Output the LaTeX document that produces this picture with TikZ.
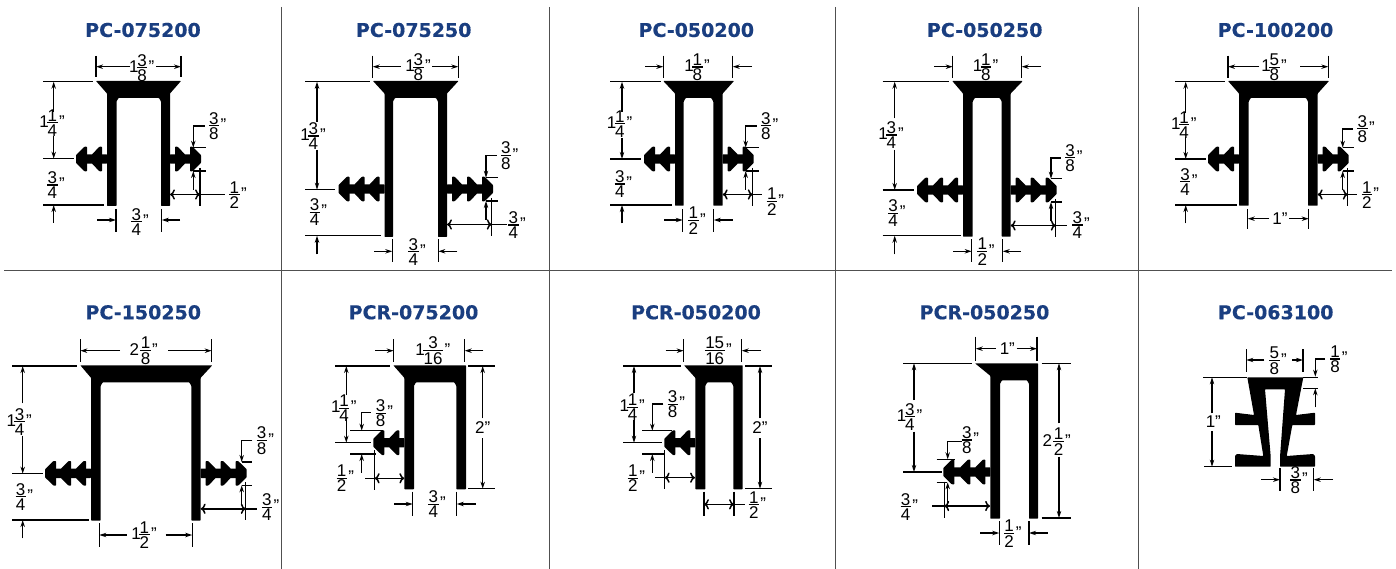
\documentclass[tikz,border=0pt]{standalone}
\usepackage{fontspec}
\setmainfont{Liberation Sans}
\newfontfamily\titlefont[BoldFeatures={FakeBold=0.5}]{DejaVu Sans}
\usetikzlibrary{arrows.meta}

\definecolor{titleblue}{RGB}{26,62,128}
\definecolor{gridgray}{RGB}{80,80,80}

% fraction and inch sizes
\newcommand{\frc}[2]{$\vcenter{\offinterlineskip\halign{\hfil\kern0.4pt##\kern0.4pt\hfil\cr #1\cr\noalign{\kern1pt\hrule height 1.2pt\kern1.2pt}#2\cr}}$}
\newcommand{\dimfrac}[2]{\frc{#1}{#2}\kern1.5pt"}
\newcommand{\mixed}[3]{#1\kern-1.5pt\frc{#2}{#3}\kern1.5pt"}

% channel body: flange left, wall left, inner left, inner right, wall right, flange right, top, bottom
\newcommand{\channel}[8]{
    \fill[rubber] (#1,#7) -- (#6,#7) -- (#5,#7+12.5) -- (#5,#8) -- (#4,#8) -- (#4,#7+20.5) -- (#4-2,#7+17)
        -- (#3+2,#7+17) -- (#3,#7+20.5) -- (#3,#8) -- (#2,#8) -- (#2,#7+12.5) -- cycle;
}
% barbed fin: wall x, y, direction, inner barb positions, end barb position
\newcommand{\finbarbs}[5]{
    \begin{scope}[shift={(#1,#2)},xscale=#3]
        \fill[rubber] (0,-4.7) rectangle (#5+5,4.7);
        \foreach \d in {#4} {
            \fill[rubber] (\d,-12.3) -- (\d+2.5,-12.3) -- (\d+10,-4.7) -- (\d+10,4.7) -- (\d+2.5,12.3) -- (\d,12.3) -- cycle;
        }
        \fill[rubber] (#5,-12.3) -- (#5+2.5,-12.3) -- (#5+11,-4) -- (#5+11,4) -- (#5+2.5,12.3) -- (#5,12.3) -- cycle;
    \end{scope}
}
% fin height: name, fin end, fin y, leader x, label x, label y
\newcommand{\finleader}[6]{
    \draw[extline] (#4,#3-11.3) -- (#2+5,#3-11.3) (#4,#3+12) -- (#2+5,#3+12);
    \draw[dimline] (#5-13,#6) -- (#4,#6) -- (#4,#3-11.3);
    \draw[dimline] (#4,#3+31) -- (#4,#3+12);
    \node[dimlabel] (#1) at (#5,#6) {\dimfrac{3}{8}};
}
% fin reach: name, fin end, fin y, wall x, tail x, label x, label y, label
\newcommand{\finreach}[8]{
    \draw[extline] (#2-1,#3+9) -- (#2-1,#3+46.7) (#2-1,#3+35.5) -- (#5,#3+35.5);
    \draw[dimline,<->] (#4,#3+35.5) -- (#2-1,#3+35.5);
    \node[dimlabel] (#1) at (#6,#7) {#8};
}

\begin{document}
\begin{tikzpicture}[
        x=1pt, y=-1pt,
        rubber/.style={fill=black, rounded corners=0.6pt},
        extline/.style={draw=black, line width=1.5pt},
        dimline/.style={draw=black, line width=1.5pt, -{Stealth[length=7pt,width=4.4pt]}},
        dimlabel/.style={inner sep=0pt, font=\fontsize{17}{18}\selectfont},
        title/.style={inner sep=0pt, text=titleblue, font=\titlefont\bfseries\fontsize{19}{20}\selectfont},
        gridline/.style={draw=gridgray, line width=0.9pt}
    ]
        \useasboundingbox (0,0) rectangle (1396,569);

        % Table lines
        \draw[gridline] (4,270) -- (1392,270);
        \foreach \x in {281.5,549,835.5,1138} {
            \draw[gridline] (\x,7) -- (\x,569);
        }

        % Titles
        \node[title] (title_a) at (143,30) {PC-075200};
        \node[title] (title_b) at (413.7,30) {PC-075250};
        \node[title] (title_c) at (696.3,30) {PC-050200};
        \node[title] (title_d) at (984.7,30) {PC-050250};
        \node[title] (title_e) at (1275.5,30) {PC-100200};
        \node[title] (title_f) at (143.3,312.3) {PC-150250};
        \node[title] (title_g) at (413.5,312.3) {PCR-075200};
        \node[title] (title_h) at (696,312.3) {PCR-050200};
        \node[title] (title_i) at (984.5,312.3) {PCR-050250};
        \node[title] (title_j) at (1275.7,312.3) {PC-063100};

        % PC-075200
        \channel{96}{107}{116.5}{161}{170}{181}{81}{206}
        \finbarbs{107}{159}{-1}{5}{20}
        \finbarbs{170}{159}{1}{5}{20}
        \draw[extline] (96,56) -- (96,77) (181,56) -- (181,77) (43,81.7) -- (92.7,81.7) (43,158.7) -- (74,158.7) (43,205) -- (104,205);
        \draw[extline] (116,209) -- (116,231.7) (161.7,209) -- (161.7,231.7);
        \draw[dimline] (130,66.7) -- (96,66.7);
        \draw[dimline] (156,66.7) -- (181,66.7);
        \draw[dimline] (53.7,112) -- (53.7,81.7);
        \draw[dimline] (53.7,136) -- (53.7,158.7);
        \draw[dimline] (53.7,223) -- (53.7,205);
        \draw[dimline] (97,220) -- (116,220);
        \draw[dimline] (180,220) -- (161.7,220);
        \node[dimlabel] (top_a) at (141.7,68) {\mixed{1}{3}{8}};
        \node[dimlabel] (upper_a) at (52,123) {\mixed{1}{1}{4}};
        \node[dimlabel] (lower_a) at (56,185) {\dimfrac{3}{4}};
        \node[dimlabel] (gap_a) at (140,221.7) {\dimfrac{3}{4}};
        \finleader{fin_a}{201}{159}{193.3}{217.5}{126}
        \finreach{reach_a}{201}{159}{170}{225}{238}{195}{\dimfrac{1}{2}}

        % PC-075250
        \channel{373}{384.5}{393}{438}{447}{458.5}{81}{237}
        \finbarbs{384.5}{189}{-1}{5,20}{35}
        \finbarbs{447}{189}{1}{5,20}{35}
        \draw[extline] (372.7,55.7) -- (372.7,78) (458.3,55.7) -- (458.3,78) (305,81.7) -- (370,81.7) (305,189.7) -- (335,189.7) (305,235.7) -- (380.7,235.7);
        \draw[extline] (392.3,239) -- (392.3,262.3) (438.3,239) -- (438.3,262.3);
        \draw[dimline] (400.7,66.7) -- (372.7,66.7);
        \draw[dimline] (432.3,66.7) -- (458.3,66.7);
        \draw[dimline] (317,121.7) -- (317,81.7);
        \draw[dimline] (317,150) -- (317,189.7);
        \draw[dimline] (317,254.3) -- (317,235.7);
        \draw[dimline] (374.3,251.3) -- (392.3,251.3);
        \draw[dimline] (457.3,251.3) -- (438.3,251.3);
        \node[dimlabel] (top_b) at (418,67.3) {\mixed{1}{3}{8}};
        \node[dimlabel] (upper_b) at (313,136) {\mixed{1}{3}{4}};
        \node[dimlabel] (lower_b) at (318.3,212.3) {\dimfrac{3}{4}};
        \node[dimlabel] (gap_b) at (417,251.7) {\dimfrac{3}{4}};
        \finleader{fin_b}{492.7}{189}{486}{509.5}{155.7}
        \finreach{reach_b}{492.7}{189}{447}{506.7}{517}{225}{\dimfrac{3}{4}}

        % PC-050200
        \channel{663.3}{675}{683.7}{713.3}{722.7}{734}{81}{205.7}
        \finbarbs{675}{159}{-1}{5}{20}
        \finbarbs{722.7}{159}{1}{5}{20}
        \draw[extline] (663.3,55.7) -- (663.3,78.3) (732.7,55.7) -- (732.7,78.3) (610,81.7) -- (661,81.7) (610,159) -- (640.7,159) (610,205) -- (671.7,205);
        \draw[extline] (682.7,209) -- (682.7,231.7) (713.7,209) -- (713.7,231.7);
        \draw[dimline] (645,66.7) -- (663.3,66.7);
        \draw[dimline] (752,66.7) -- (732.7,66.7);
        \draw[dimline] (622,111.7) -- (622,81.7);
        \draw[dimline] (622,138.3) -- (622,159);
        \draw[dimline] (622,223.3) -- (622,205);
        \draw[dimline] (664.3,220) -- (682.7,220);
        \draw[dimline] (732.7,220) -- (713.7,220);
        \node[dimlabel] (top_c) at (697,67.3) {\mixed{1}{1}{8}};
        \node[dimlabel] (upper_c) at (619.5,124) {\mixed{1}{1}{4}};
        \node[dimlabel] (lower_c) at (623.3,184) {\dimfrac{3}{4}};
        \node[dimlabel] (gap_c) at (697,220.7) {\dimfrac{1}{2}};
        \finleader{fin_c}{753.7}{159}{745.7}{769.5}{126}
        \finreach{reach_c}{753.7}{159}{722.7}{762}{775.3}{201.7}{\dimfrac{1}{2}}

        % PC-050250
        \channel{952.3}{963}{972.7}{1001.7}{1010.7}{1022.7}{81}{236.7}
        \finbarbs{963}{190}{-1}{5,20}{35}
        \finbarbs{1010.7}{190}{1}{5,20}{35}
        \draw[extline] (952.7,55.7) -- (952.7,78.3) (1021.7,55.7) -- (1021.7,78.3) (882.7,81.7) -- (949,81.7) (882.7,190) -- (914.3,190) (882.7,235.7) -- (960.7,235.7);
        \draw[extline] (971.7,239.3) -- (971.7,262.3) (1002.7,239.3) -- (1002.7,262.3);
        \draw[dimline] (934.3,66.7) -- (952.7,66.7);
        \draw[dimline] (1041,66.7) -- (1021.7,66.7);
        \draw[dimline] (894.7,118.3) -- (894.7,81.7);
        \draw[dimline] (894.7,150) -- (894.7,190);
        \draw[dimline] (894.7,254.3) -- (894.7,235.7);
        \draw[dimline] (953.3,251.3) -- (971.7,251.3);
        \draw[dimline] (1020.7,251.3) -- (1002.7,251.3);
        \node[dimlabel] (top_d) at (985.5,67.3) {\mixed{1}{1}{8}};
        \node[dimlabel] (upper_d) at (891,135) {\mixed{1}{3}{4}};
        \node[dimlabel] (lower_d) at (896.7,213.3) {\dimfrac{3}{4}};
        \node[dimlabel] (gap_d) at (985.8,251.7) {\dimfrac{1}{2}};
        \finleader{fin_d}{1056.7}{190}{1051}{1073.7}{158}
        \finreach{reach_d}{1056.7}{190}{1010.7}{1067.3}{1081}{225}{\dimfrac{3}{4}}

        % PC-100200
        \channel{1228}{1239}{1248.7}{1308}{1317.7}{1329}{81}{205.7}
        \finbarbs{1239}{159}{-1}{5}{20}
        \finbarbs{1317.7}{159}{1}{5}{20}
        \draw[extline] (1228,55.7) -- (1228,78.3) (1328.3,55.7) -- (1328.3,78.3) (1175,81.7) -- (1225,81.7) (1175,159) -- (1205.7,159) (1175,205) -- (1236.7,205);
        \draw[extline] (1247.7,209) -- (1247.7,229.3) (1308.7,209) -- (1308.7,229.3);
        \draw[dimline] (1259.3,66.7) -- (1228,66.7);
        \draw[dimline] (1300,66.7) -- (1328.3,66.7);
        \draw[dimline] (1185.7,113.3) -- (1185.7,81.7);
        \draw[dimline] (1185.7,136.7) -- (1185.7,159);
        \draw[dimline] (1185.7,223.3) -- (1185.7,205);
        \draw[dimline] (1269.3,218.7) -- (1247.7,218.7);
        \draw[dimline] (1289.3,218.7) -- (1308.7,218.7);
        \node[dimlabel] (top_e) at (1274,67.3) {\mixed{1}{5}{8}};
        \node[dimlabel] (upper_e) at (1183.8,125) {\mixed{1}{1}{4}};
        \node[dimlabel] (lower_e) at (1188.7,181.7) {\dimfrac{3}{4}};
        \node[dimlabel] (gap_e) at (1280,219) {1"};
        \finleader{fin_e}{1348.7}{159}{1342.7}{1366}{129}
        \finreach{reach_e}{1348.7}{159}{1317.7}{1356.7}{1370.3}{195}{\dimfrac{1}{2}}

        % PC-150250
        \channel{80.3}{91}{100.7}{191.3}{200.7}{212.3}{365.3}{520.5}
        \finbarbs{91}{473.3}{-1}{5,20}{35}
        \finbarbs{200.7}{473.3}{1}{5,20}{35}
        \draw[extline] (80.3,339) -- (80.3,361.7) (211.7,339) -- (211.7,361.7) (12.3,366) -- (76.7,366) (12.3,473.7) -- (43.3,473.7) (12.3,520) -- (89.3,520);
        \draw[extline] (99.3,523.3) -- (99.3,546.7) (192.3,523.3) -- (192.3,546.7);
        \draw[dimline] (120,350.7) -- (80.3,350.7);
        \draw[dimline] (168.3,350.7) -- (211.7,350.7);
        \draw[dimline] (22.7,403.3) -- (22.7,366);
        \draw[dimline] (22.7,435.7) -- (22.7,473.7);
        \draw[dimline] (22.7,538.3) -- (22.7,520);
        \draw[dimline] (126.7,535) -- (99.3,535);
        \draw[dimline] (165.7,535) -- (192.3,535);
        \node[dimlabel] (top_f) at (143.7,350.7) {\mixed{2\kern3pt}{1}{8}};
        \node[dimlabel] (upper_f) at (19.2,421.7) {\mixed{1}{3}{4}};
        \node[dimlabel] (lower_f) at (24.3,496.7) {\dimfrac{3}{4}};
        \node[dimlabel] (gap_f) at (144,535) {\mixed{1}{1}{2}};
        \finleader{fin_f}{246.7}{473.3}{241.7}{265.3}{440.7}
        \finreach{reach_f}{246.7}{473.3}{200.7}{257.3}{270.5}{507.3}{\dimfrac{3}{4}}

        % PCR-075200
        \channel{393.3}{404.3}{414}{456.3}{466}{466}{365.3}{489.3}
        \finbarbs{404.3}{442.7}{-1}{5}{20}
        \draw[extline] (393.7,339) -- (393.7,361.7) (464.7,339) -- (464.7,361.7) (335,366) -- (390,366) (335,442.7) -- (371,442.7) (468.3,366) -- (495,366) (468.3,488.7) -- (495,488.7);
        \draw[extline] (412.7,491.7) -- (412.7,516) (456.7,491.7) -- (456.7,516);
        \draw[extline] (350,430.7) -- (382.7,430.7) (350,454) -- (376,454) (374.7,450) -- (374.7,490) (365,478.3) -- (374.7,478.3);
        \draw[dimline] (375.3,350.7) -- (393.7,350.7);
        \draw[dimline] (483.3,350.7) -- (464.7,350.7);
        \draw[dimline] (346.3,395) -- (346.3,366);
        \draw[dimline] (346.3,418.3) -- (346.3,442.7);
        \draw[dimline] (482.7,418.3) -- (482.7,366);
        \draw[dimline] (482.7,438.3) -- (482.7,488.7);
        \draw[dimline] (370.7,412.7) -- (361.7,412.7) -- (361.7,430.7);
        \draw[dimline] (361.7,472.7) -- (361.7,454);
        \draw[dimline,<->] (374.7,478.3) -- (404.3,478.3);
        \draw[dimline] (394.3,504) -- (412.7,504);
        \draw[dimline] (475.7,504) -- (456.7,504);
        \node[dimlabel] (top_g) at (432.8,350.7) {\mixed{1}{3}{16}};
        \node[dimlabel] (upper_g) at (343.8,408.3) {\mixed{1}{1}{4}};
        \node[dimlabel] (height_g) at (482.7,427.7) {2"};
        \node[dimlabel] (fin_g) at (384.3,413.3) {\dimfrac{3}{8}};
        \node[dimlabel] (reach_g) at (345.3,478.3) {\dimfrac{1}{2}};
        \node[dimlabel] (gap_g) at (437,504.3) {\dimfrac{3}{4}};

        % PCR-050200
        \channel{684}{695.3}{705.3}{733.3}{742.7}{742.7}{365.3}{489.3}
        \finbarbs{695.3}{442.7}{-1}{5}{20}
        \draw[extline] (683.7,339) -- (683.7,361.7) (741.7,339) -- (741.7,361.7) (623.3,366) -- (681,366) (623.3,442.7) -- (661.7,442.7) (745,366) -- (771.7,366) (745,488.7) -- (771.7,488.7);
        \draw[extline] (704,491.7) -- (704,516) (734,491.7) -- (734,516) (734,504.3) -- (745,504.3);
        \draw[extline] (642.3,430.7) -- (671.7,430.7) (642.3,454) -- (665,454) (664.7,450) -- (664.7,489) (655,477.7) -- (664.7,477.7);
        \draw[dimline] (665.7,350.7) -- (683.7,350.7);
        \draw[dimline] (761,350.7) -- (741.7,350.7);
        \draw[dimline] (634,393.3) -- (634,366);
        \draw[dimline] (634,420) -- (634,442.7);
        \draw[dimline] (760,418.3) -- (760,366);
        \draw[dimline] (760,438.3) -- (760,488.7);
        \draw[dimline] (663.3,404) -- (652.3,404) -- (652.3,430.7);
        \draw[dimline] (652.3,472.7) -- (652.3,454);
        \draw[dimline,<->] (664.7,477.7) -- (695,477.7);
        \draw[dimline,<->] (704,504.3) -- (734,504.3);
        \node[dimlabel] (top_h) at (718.3,350.7) {\dimfrac{15}{16}};
        \node[dimlabel] (upper_h) at (632.2,407.3) {\mixed{1}{1}{4}};
        \node[dimlabel] (height_h) at (760,427.7) {2"};
        \node[dimlabel] (fin_h) at (676.2,404.3) {\dimfrac{3}{8}};
        \node[dimlabel] (reach_h) at (636.3,478.3) {\dimfrac{1}{2}};
        \node[dimlabel] (gap_h) at (757.3,505) {\dimfrac{1}{2}};

        % PCR-050250
        \channel{975}{990.3}{1000}{1029}{1038}{1038}{363.3}{518.7}
        \finbarbs{990.3}{472}{-1}{5,20}{36}
        \draw[extline] (975.7,336.7) -- (975.7,360.7) (1037,336.7) -- (1037,360.7) (903.3,363.3) -- (971.7,363.3) (903.3,472) -- (942.3,472) (1041.7,363.3) -- (1070.7,363.3) (1041.7,518) -- (1070.7,518);
        \draw[extline] (999.3,521) -- (999.3,545) (1029,521) -- (1029,545);
        \draw[extline] (936.7,459.3) -- (955,459.3) (936.7,482.3) -- (946.7,482.3) (944.3,481.7) -- (944.3,517.7) (932.3,506) -- (944.3,506);
        \draw[dimline] (995.7,348.7) -- (975.7,348.7);
        \draw[dimline] (1016.7,348.7) -- (1037,348.7);
        \draw[dimline] (914,400) -- (914,363.3);
        \draw[dimline] (914,431.7) -- (914,472);
        \draw[dimline] (1059,423.3) -- (1059,363.3);
        \draw[dimline] (1059,456.7) -- (1059,518);
        \draw[dimline] (961.7,441.7) -- (947.7,441.7) -- (947.7,459.3);
        \draw[dimline] (947.7,503.3) -- (947.7,482.3);
        \draw[dimline,<->] (944.3,506) -- (990,506);
        \draw[dimline] (980,533) -- (999.3,533);
        \draw[dimline] (1047.7,533) -- (1029,533);
        \node[dimlabel] (top_i) at (1007.3,349) {1"};
        \node[dimlabel] (upper_i) at (909.5,416.7) {\mixed{1}{3}{4}};
        \node[dimlabel] (height_i) at (1056.7,441.7) {\mixed{2\kern3pt}{1}{2}};
        \node[dimlabel] (fin_i) at (970.3,440) {\dimfrac{3}{8}};
        \node[dimlabel] (reach_i) at (909.2,506.7) {\dimfrac{3}{4}};
        \node[dimlabel] (gap_i) at (1012.7,533.7) {\dimfrac{1}{2}};

        % PC-063100
        \fill[rubber] (1247.3,377.3) -- (1303.3,377.3) -- (1296,415) -- (1315,412.7) -- (1315,425) -- (1292.3,425) -- (1286.7,456)
            -- (1313.3,454) -- (1315,456) -- (1315,466.7) -- (1280,466.7) -- (1280,456.7) -- (1285,389.3) -- (1265,389.3)
            -- (1270.7,456.7) -- (1270.7,466.7) -- (1235,466.7) -- (1235,456) -- (1236.7,454) -- (1263.3,456) -- (1258.3,425)
            -- (1235,425) -- (1235,412.7) -- (1254,415) -- cycle;
        \draw[extline] (1246.3,349) -- (1246.3,371.7) (1303,349) -- (1303,371.7) (1203.3,377.3) -- (1247.3,377.3) (1204,466.7) -- (1232.3,466.7);
        \draw[extline] (1303.3,377.3) -- (1317.7,377.3) (1303.3,388.3) -- (1317.7,388.3) (1280,468.3) -- (1280,490.7) (1313.7,468.3) -- (1313.7,490.7);
        \draw[dimline] (1264.3,360) -- (1246.3,360);
        \draw[dimline] (1292.3,360) -- (1303,360);
        \draw[dimline] (1325,359) -- (1315.3,359) -- (1315.3,376.7);
        \draw[dimline] (1315.3,407.3) -- (1315.3,388.3);
        \draw[dimline] (1212,413.3) -- (1212,377.3);
        \draw[dimline] (1212,431) -- (1212,466.7);
        \draw[dimline] (1261.3,479.7) -- (1280,479.7);
        \draw[dimline] (1333,479.7) -- (1313.7,479.7);
        \node[dimlabel] (top_j) at (1278,360.7) {\dimfrac{5}{8}};
        \node[dimlabel] (lip_j) at (1338.7,359.3) {\dimfrac{1}{8}};
        \node[dimlabel] (height_j) at (1213.3,421.7) {1"};
        \node[dimlabel] (gap_j) at (1299,480) {\dimfrac{3}{8}};

    \end{tikzpicture}
\end{document}
